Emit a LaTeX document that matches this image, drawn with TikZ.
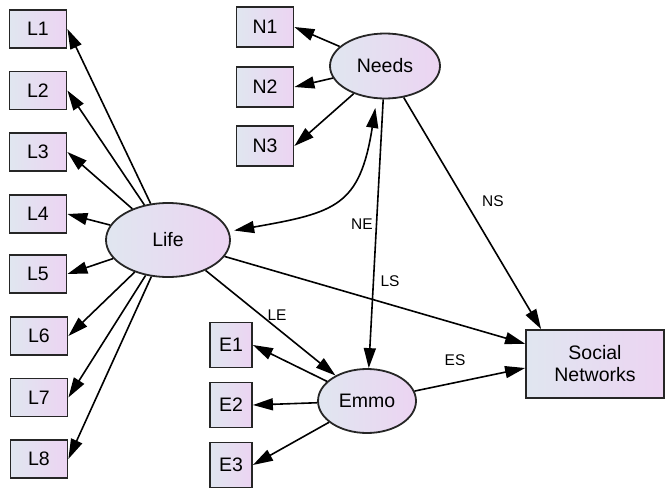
\documentclass[tikz,border=0pt]{standalone}
\usepackage{fontspec}
\setmainfont{Liberation Sans}
\usetikzlibrary{arrows.meta,calc,shapes.geometric}
\definecolor{shadeL}{RGB}{224,230,240}
\definecolor{shadeR}{RGB}{236,212,242}
\begin{document}
\begin{tikzpicture}[x=1pt,y=1pt,
  obs/.style={draw=black!85, line width=1.8pt, rectangle, left color=shadeL, right color=shadeR,
    minimum width=57pt, minimum height=38pt, inner sep=0pt, font=\fontsize{19.5}{22}\selectfont},
  obsE/.style={obs, minimum width=42pt, minimum height=45pt},
  lat/.style={draw=black!85, line width=1.8pt, ellipse, left color=shadeL, right color=shadeR,
    inner sep=0pt, font=\fontsize{19.5}{22}\selectfont},
  path/.style={line width=1.6pt, -{Triangle[length=20pt,width=12pt]}},
  lab/.style={font=\fontsize{15.5}{18}\selectfont, inner sep=0pt}
]
\useasboundingbox (0,0) rectangle (665,-490);

% observed L
\node[obs] (L1) at (38,-29) {L1};
\node[obs] (L2) at (38,-90.5) {L2};
\node[obs] (L3) at (38,-152) {L3};
\node[obs] (L4) at (38,-214) {L4};
\node[obs] (L5) at (38,-274) {L5};
\node[obs] (L6) at (39,-336) {L6};
\node[obs] (L7) at (39,-397.5) {L7};
\node[obs] (L8) at (39,-459) {L8};
% observed N
\node[obs, minimum height=40pt] (N1) at (265,-27) {N1};
\node[obs, minimum height=40pt] (N2) at (265,-87) {N2};
\node[obs, minimum height=40pt] (N3) at (265,-146) {N3};
% observed E
\node[obsE] (E1) at (231,-345) {E1};
\node[obsE] (E2) at (231,-405) {E2};
\node[obsE] (E3) at (231,-465) {E3};
% latent
\node[lat, minimum width=124pt, minimum height=74pt] (life) at (168,-240) {Life};
\node[lat, minimum width=110pt, minimum height=65pt] (needs) at (385,-66) {Needs};
\node[lat, minimum width=98pt, minimum height=64pt] (emmo) at (367,-401) {Emmo};
% outcome
\node[obs, minimum width=138pt, minimum height=68pt, align=center] (sn) at (595,-364) {Social\\Networks};

\coordinate (nsend) at ($(sn.north west)+(16,0)$);
\coordinate (esend) at ($(sn.west)+(0,-4)$);

% Life loadings
\foreach \i in {1,...,8} \draw[path] (life) -- (L\i.east);
% Needs loadings
\foreach \i in {1,2,3} \draw[path] (needs) -- (N\i.east);
% Emmo loadings
\foreach \i in {1,2,3} \draw[path] (emmo) -- (E\i.east);

% structural paths
\draw[path] (life) -- (emmo);
\draw[path] (life) -- (sn);
\draw[path] (needs) -- (emmo);
\draw[path] (needs) -- (nsend);
\draw[path] (emmo) -- (esend);

% covariance
\draw[line width=1.6pt, {Triangle[length=20pt,width=12pt]}-{Triangle[length=20pt,width=12pt]},
  shorten <=5pt, shorten >=9pt] (life.8) to[out=10, in=-99, looseness=1.4] (needs.-104);

% labels
\node[lab] (lLE) at (277,-315) {LE};
\node[lab] (lNE) at (362,-224) {NE};
\node[lab] (lLS) at (390,-281) {LS};
\node[lab] (lNS) at (493,-201) {NS};
\node[lab] (lES) at (455,-360) {ES};
\end{tikzpicture}
\end{document}
